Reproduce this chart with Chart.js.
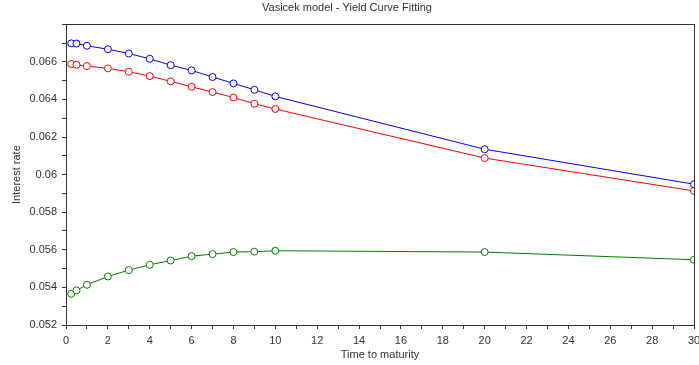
<!DOCTYPE html>
<html>
<head>
<meta charset="utf-8">
<script src="https://cdn.jsdelivr.net/npm/chart.js@4/dist/chart.umd.min.js"></script>
<style>
  body { margin: 0; background: #fff; }
  #wrap { width: 699px; height: 365px; }
</style>
</head>
<body>
<div id="wrap"><canvas id="yieldChart" width="699" height="365"></canvas></div>
<script>
var maturities = [0.25, 0.5, 1, 2, 3, 4, 5, 6, 7, 8, 9, 10, 20, 30];
var blueRates = [0.06698, 0.06697, 0.06685, 0.06667, 0.06644, 0.06616, 0.06582, 0.06554, 0.06519, 0.06485, 0.06451, 0.06416, 0.06135, 0.05949];
var redRates = [0.06588, 0.06584, 0.06577, 0.06565, 0.06547, 0.06524, 0.06496, 0.06467, 0.06439, 0.06410, 0.06377, 0.06349, 0.06088, 0.05913];
var greenRates = [0.05366, 0.05384, 0.05414, 0.05458, 0.05492, 0.05520, 0.05543, 0.05566, 0.05577, 0.05588, 0.05590, 0.05595, 0.05588, 0.05547];

var axisColor = "#333333";
var fontFamily = "'Liberation Sans', Arial, sans-serif";

function toPoints(ys) {
    return maturities.map((x, i) => ({ x: x, y: ys[i] }));
}

function makeSet(ys, color) {
    return {
        data: toPoints(ys),
        borderColor: color,
        borderWidth: 1,
        backgroundColor: "#ffffff",
        pointRadius: 3.5,
        pointBorderWidth: 1,
        pointBorderColor: color,
        pointBackgroundColor: "#ffffff",
        tension: 0,
        clip: { left: 6, top: 6, right: 0, bottom: 6 }
    };
}

// frame around the plot area (Scilab style box)
var framePlugin = {
    id: "frame",
    beforeDatasetsDraw(chart) {
        var a = chart.chartArea;
        var ctx = chart.ctx;
        ctx.save();
        ctx.strokeStyle = axisColor;
        ctx.lineWidth = 1;
        ctx.strokeRect(Math.round(a.left) + 0.5, Math.round(a.top) + 0.5,
            Math.round(a.right - a.left), Math.round(a.bottom - a.top));
        ctx.restore();
    }
};

new Chart("yieldChart", {
    type: "line",
    data: {
        datasets: [
            makeSet(blueRates, "#0000ff"),
            makeSet(redRates, "#ff0000"),
            makeSet(greenRates, "#008000")
        ]
    },
    plugins: [framePlugin],
    options: {
        responsive: false,
        animation: false,
        layout: { padding: { left: 0, right: 5, top: 0, bottom: 0 } },
        plugins: {
            legend: { display: false },
            tooltip: { enabled: false },
            title: {
                display: true,
                text: "Vasicek model - Yield Curve Fitting",
                color: axisColor,
                font: { family: fontFamily, size: 11, weight: "normal" },
                padding: { top: 1, bottom: 10 }
            }
        },
        scales: {
            x: {
                type: "linear",
                min: 0,
                max: 30,
                border: { color: axisColor },
                grid: { drawOnChartArea: false, tickLength: 4, tickColor: axisColor },
                ticks: {
                    stepSize: 1,
                    autoSkip: false,
                    maxRotation: 0,
                    padding: 5,
                    color: axisColor,
                    font: { family: fontFamily, size: 11 },
                    callback: v => (Math.round(v) % 2 === 0 ? String(Math.round(v)) : "")
                },
                title: {
                    display: true,
                    text: "Time to maturity",
                    color: axisColor,
                    font: { family: fontFamily, size: 11 },
                    padding: { top: 2, bottom: 3 }
                },
                afterFit(scale) {
                    scale.height = 40;
                    scale.paddingLeft = 0;
                    scale.paddingRight = 0;
                }
            },
            y: {
                min: 0.052,
                max: 0.068,
                border: { color: axisColor },
                grid: { drawOnChartArea: false, tickLength: 4, tickColor: axisColor },
                ticks: {
                    stepSize: 0.001,
                    autoSkip: false,
                    padding: 5,
                    color: axisColor,
                    font: { family: fontFamily, size: 11 },
                    callback: function (v) {
                        var k = Math.round(v * 1000);
                        if (k % 2 !== 0 || k === 68) return "";
                        return String(Number((k / 1000).toFixed(3)));
                    }
                },
                title: {
                    display: true,
                    text: "Interest rate",
                    color: axisColor,
                    font: { family: fontFamily, size: 11 },
                    padding: { top: 10, bottom: 0 }
                },
                afterFit(scale) {
                    scale.width = 66;
                    scale.paddingTop = 0;
                    scale.paddingBottom = 0;
                }
            }
        }
    }
});
</script>
</body>
</html>
